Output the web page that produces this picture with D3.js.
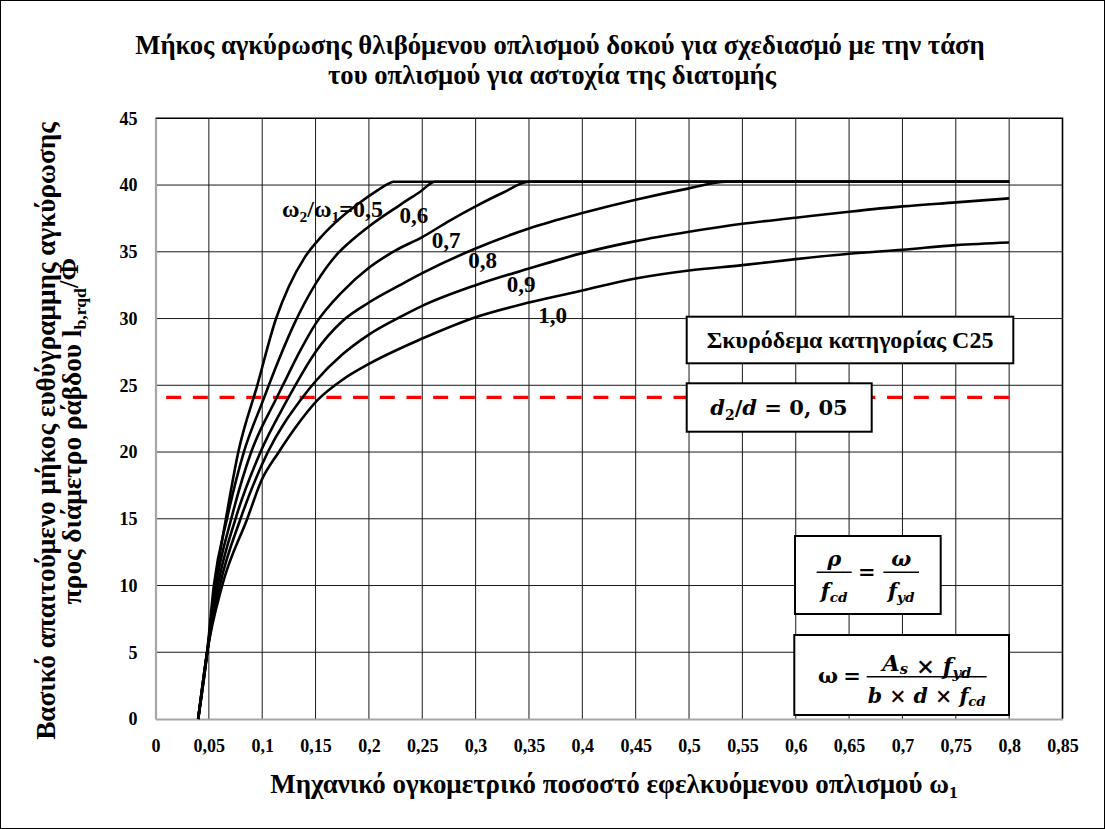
<!DOCTYPE html>
<html>
<head>
<meta charset="utf-8">
<script src="https://cdn.jsdelivr.net/npm/d3@7"></script>
<style>
  body { margin: 0; background: #fff; }
  svg text { font-family: "Liberation Serif", "Times New Roman", serif; font-weight: bold; fill: #000; }
  svg text.math { font-family: "DejaVu Serif", serif; }
</style>
</head>
<body>
<svg id="chart" width="1105" height="829"></svg>
<script>
// ---- axis ticks ----
const xTicks = [0, 0.05, 0.1, 0.15, 0.2, 0.25, 0.3, 0.35, 0.4, 0.45, 0.5, 0.55, 0.6, 0.65, 0.7, 0.75, 0.8, 0.85];
const yTicks = [0, 5, 10, 15, 20, 25, 30, 35, 40, 45];

// ---- l_b,rqd/Φ against ω1, one series per ratio ω2/ω1 ----
const ratios = ["0,5", "0,6", "0,7", "0,8", "0,9", "1,0"];
const curve05 = [[0.04,0],[0.0486,5],[0.0558,10],[0.066,15],[0.0776,20],[0.0954,25],[0.113,30],[0.125,32.4],[0.140,34.6],[0.155,36.1],[0.170,37.3],[0.190,38.6],[0.208,39.6],[0.217,40.05],[0.223,40.25],[0.8,40.25]];
const curve06 = [[0.04,0],[0.0484,5],[0.0547,10],[0.067,15],[0.0828,20],[0.100,23.7],[0.115,26.8],[0.130,29.6],[0.150,32.6],[0.170,34.8],[0.186,36.0],[0.200,36.9],[0.229,38.5],[0.248,39.5],[0.262,40.25],[0.8,40.25]];
const curve07 = [[0.04,0],[0.0484,5],[0.0566,10],[0.071,15],[0.0897,20],[0.1125,23.9],[0.120,25.1],[0.135,27.5],[0.150,29.6],[0.175,32.0],[0.200,33.8],[0.225,35.1],[0.250,36.1],[0.275,37.3],[0.300,38.4],[0.325,39.4],[0.350,40.25],[0.8,40.25]];
const curve08 = [[0.04,0],[0.0484,5],[0.0584,10],[0.075,15],[0.0984,20],[0.1234,23.9],[0.131,25],[0.150,27.5],[0.175,29.8],[0.200,31.2],[0.229,32.5],[0.250,33.4],[0.300,35.25],[0.350,36.75],[0.400,37.9],[0.450,38.9],[0.500,39.75],[0.535,40.25],[0.8,40.25]];
const curve09 = [[0.04,0],[0.0484,5],[0.0603,10],[0.0797,15],[0.1053,20],[0.136,23.9],[0.150,25.3],[0.175,27.3],[0.200,28.8],[0.229,30.1],[0.250,30.95],[0.300,32.5],[0.350,33.75],[0.400,34.9],[0.450,35.8],[0.500,36.5],[0.550,37.1],[0.600,37.55],[0.650,38.0],[0.700,38.4],[0.750,38.7],[0.800,39.0]];
const curve10 = [[0.04,0],[0.0484,5],[0.0625,10],[0.086,15],[0.0995,17.9],[0.1156,20],[0.130,21.7],[0.152,23.9],[0.175,25.4],[0.200,26.6],[0.250,28.5],[0.300,30.1],[0.350,31.2],[0.400,32.1],[0.450,33.0],[0.500,33.6],[0.550,34.0],[0.600,34.45],[0.650,34.85],[0.700,35.15],[0.750,35.5],[0.800,35.7]];
const series = [curve05, curve06, curve07, curve08, curve09, curve10];

// label anchors (ω1, l/Φ) for each curve
const labelAnchors = [[0.1185,37.6],[0.2287,37.15],[0.2589,35.28],[0.2932,33.78],[0.3292,31.98],[0.3588,29.66]];

// reference level d2/d = 0,05 line
const refLevel = 24.1;
const refSpan = [0.01, 0.8];

// ---- layout ----
const W = 1105, H = 829;
const plot = { left: 155.5, right: 1062.5, top: 118.3, bottom: 719 };

const svg = d3.select("#chart");
svg.append("rect").attr("x", 0.5).attr("y", 0.5).attr("width", W - 1).attr("height", H - 1)
  .attr("fill", "#fff").attr("stroke", "#000").attr("stroke-width", 1);

const x = d3.scaleLinear().domain([0, 0.85]).range([plot.left, plot.right]);
const y = d3.scaleLinear().domain([0, 45]).range([plot.bottom, plot.top]);

const fmt = v => v === 0 ? "0" : String(+v.toFixed(2)).replace(".", ",");

// scale a text's font size so that it spans the given width
function fitWidth(sel, width) {
  const w = sel.node().getComputedTextLength();
  const fs = parseFloat(sel.attr("font-size"));
  const nfs = fs * width / w;
  sel.attr("font-size", nfs);
  return nfs;
}

// grid
const grid = svg.append("g").attr("stroke", "#1a1a1a").attr("stroke-width", 1);
grid.selectAll("line.v").data(xTicks.filter(v => v > 0 && v < 0.85)).join("line")
  .attr("x1", d => x(d)).attr("x2", d => x(d)).attr("y1", plot.top).attr("y2", plot.bottom);
grid.selectAll("line.h").data(yTicks.filter(v => v > 0 && v < 45)).join("line")
  .attr("y1", d => y(d)).attr("y2", d => y(d)).attr("x1", plot.left).attr("x2", plot.right);

// top and right frame
svg.append("path")
  .attr("d", `M${plot.left},${plot.top}H${plot.right}V${plot.bottom}`)
  .attr("fill", "none").attr("stroke", "#000").attr("stroke-width", 1.6);

// axes
const xAxis = d3.axisBottom(x).tickValues(xTicks).tickFormat(fmt).tickSize(0).tickPadding(20);
const yAxis = d3.axisLeft(y).tickValues(yTicks).tickFormat(d => d).tickSize(0).tickPadding(18);
const gx = svg.append("g").attr("transform", `translate(0,${plot.bottom})`).call(xAxis);
const gy = svg.append("g").attr("transform", `translate(${plot.left},0)`).call(yAxis);
[gx, gy].forEach(g => {
  g.select(".domain").attr("stroke", "#a6a6a6").attr("stroke-width", 2.2);
  g.selectAll("text").attr("font-size", 18);
});

// reference dashed line
svg.append("line")
  .attr("x1", x(refSpan[0])).attr("x2", x(refSpan[1]))
  .attr("y1", y(refLevel)).attr("y2", y(refLevel))
  .attr("stroke", "#ff0000").attr("stroke-width", 3.3).attr("stroke-dasharray", "15,11.7");

// curves
const line = d3.line().x(d => x(d[0])).y(d => y(d[1])).curve(d3.curveMonotoneX);
svg.append("g").selectAll("path").data(series).join("path")
  .attr("d", line).attr("fill", "none").attr("stroke", "#000")
  .attr("stroke-width", 2.6).attr("stroke-linejoin", "round");

// curve labels
const lab = svg.append("g").attr("font-size", 23);
labelAnchors.forEach((p, i) => {
  const t = lab.append("text").attr("x", x(p[0])).attr("y", y(p[1]));
  if (i === 0) {
    t.attr("font-size", 22);
    t.append("tspan").text("ω");
    t.append("tspan").attr("font-size", "65%").attr("dy", 5).text("2");
    t.append("tspan").attr("dy", -5).text("/ω");
    t.append("tspan").attr("font-size", "65%").attr("dy", 5).text("1");
    t.append("tspan").attr("dy", -5).text("=" + ratios[i]);
    fitWidth(t, 101);
  } else {
    t.text(ratios[i]);
  }
});

// title
const title1 = svg.append("text").attr("text-anchor", "middle").attr("font-size", 21)
  .attr("x", 560).attr("y", 54).text("Μήκος αγκύρωσης θλιβόμενου οπλισμού δοκού για σχεδιασμό με την τάση");
const titleSize = fitWidth(title1, 850);
svg.append("text").attr("text-anchor", "middle").attr("font-size", titleSize)
  .attr("x", 552).attr("y", 84).text("του οπλισμού για αστοχία της διατομής");

// x axis title
const xt = svg.append("text").attr("text-anchor", "middle").attr("font-size", 20)
  .attr("x", 614).attr("y", 793);
xt.append("tspan").text("Μηχανικό ογκομετρικό ποσοστό εφελκυόμενου οπλισμού ω");
xt.append("tspan").attr("font-size", "65%").attr("dy", "0.3em").text("1");
fitWidth(xt, 688);

// y axis title
const yt = svg.append("g").attr("transform", "translate(0,431) rotate(-90)");
const yt1 = yt.append("text").attr("text-anchor", "middle").attr("font-size", 20).attr("x", 0).attr("y", 55)
  .text("Βασικό απαιτούμενο μήκος ευθύγραμμης αγκύρωσης");
const ySize = fitWidth(yt1, 618);
const yt2 = yt.append("text").attr("text-anchor", "middle").attr("font-size", ySize).attr("x", 0).attr("y", 81);
yt2.append("tspan").text("προς διάμετρο ράβδου l");
yt2.append("tspan").attr("font-size", "65%").attr("dy", "0.3em").text("b,rqd");
yt2.append("tspan").attr("dy", "-0.3em").text("/Φ");

// annotation boxes
function box(x0, y0, w, h) {
  svg.append("rect").attr("x", x0).attr("y", y0).attr("width", w).attr("height", h)
    .attr("fill", "#fff").attr("stroke", "#000").attr("stroke-width", 2);
}
box(686.7, 316.7, 326.6, 46.6);
const b1 = svg.append("text").attr("text-anchor", "middle").attr("x", 850).attr("y", 348).attr("font-size", 21)
  .text("Σκυρόδεμα κατηγορίας C25");
fitWidth(b1, 287);

box(686.7, 383.3, 185, 48.4);
const t2 = svg.append("text").attr("class", "math").attr("text-anchor", "middle")
  .attr("x", 779).attr("y", 415).attr("font-size", 21);
t2.append("tspan").attr("font-style", "italic").text("d");
t2.append("tspan").attr("font-size", 14).attr("dy", 5).text("2");
t2.append("tspan").attr("dy", -5).text("/");
t2.append("tspan").attr("font-style", "italic").text("d");
t2.append("tspan").text(" = 0, 05");

// fraction helper: bar plus centred numerator and denominator
function frac(cx, barY, half, num, den, size, fitNum, fitDen) {
  svg.append("line").attr("x1", cx - half).attr("x2", cx + half).attr("y1", barY).attr("y2", barY)
    .attr("stroke", "#000").attr("stroke-width", 1.4);
  const n = svg.append("text").attr("class", "math").attr("text-anchor", "middle")
    .attr("x", cx).attr("y", barY - 6).attr("font-size", size);
  num(n);
  if (fitNum) fitWidth(n, fitNum);
  const d = svg.append("text").attr("class", "math").attr("text-anchor", "middle")
    .attr("x", cx).attr("y", barY + 26).attr("font-size", size);
  den(d);
  if (fitDen) fitWidth(d, fitDen);
}
const it = (t, s) => t.append("tspan").attr("font-style", "italic").text(s);
const sub = (t, s) => { t.append("tspan").attr("font-style", "italic").attr("font-size", "65%").attr("dy", "0.25em").text(s); t.append("tspan").attr("dy", "-0.25em").text(""); };

box(795, 536, 145.7, 78);
frac(834.2, 572.3, 17.5, t => it(t, "ρ"), t => { it(t, "f"); sub(t, "cd"); }, 21);
svg.append("text").attr("class", "math").attr("text-anchor", "middle").attr("x", 866.7).attr("y", 579).attr("font-size", 21).text("=");
frac(901.2, 572.3, 17.8, t => it(t, "ω"), t => { it(t, "f"); sub(t, "yd"); }, 21);

box(794.3, 635, 214.7, 80);
svg.append("text").attr("class", "math").attr("text-anchor", "middle").attr("x", 828).attr("y", 683).attr("font-size", 21).text("ω");
svg.append("text").attr("class", "math").attr("text-anchor", "middle").attr("x", 852).attr("y", 683).attr("font-size", 21).text("=");
frac(926.7, 676.7, 60,
  t => { it(t, "A"); sub(t, "s"); t.append("tspan").text(" × "); it(t, "f"); sub(t, "yd"); },
  t => { it(t, "b"); t.append("tspan").text(" × "); it(t, "d"); t.append("tspan").text(" × "); it(t, "f"); sub(t, "cd"); },
  21, 89, 118);
</script>
</body>
</html>
